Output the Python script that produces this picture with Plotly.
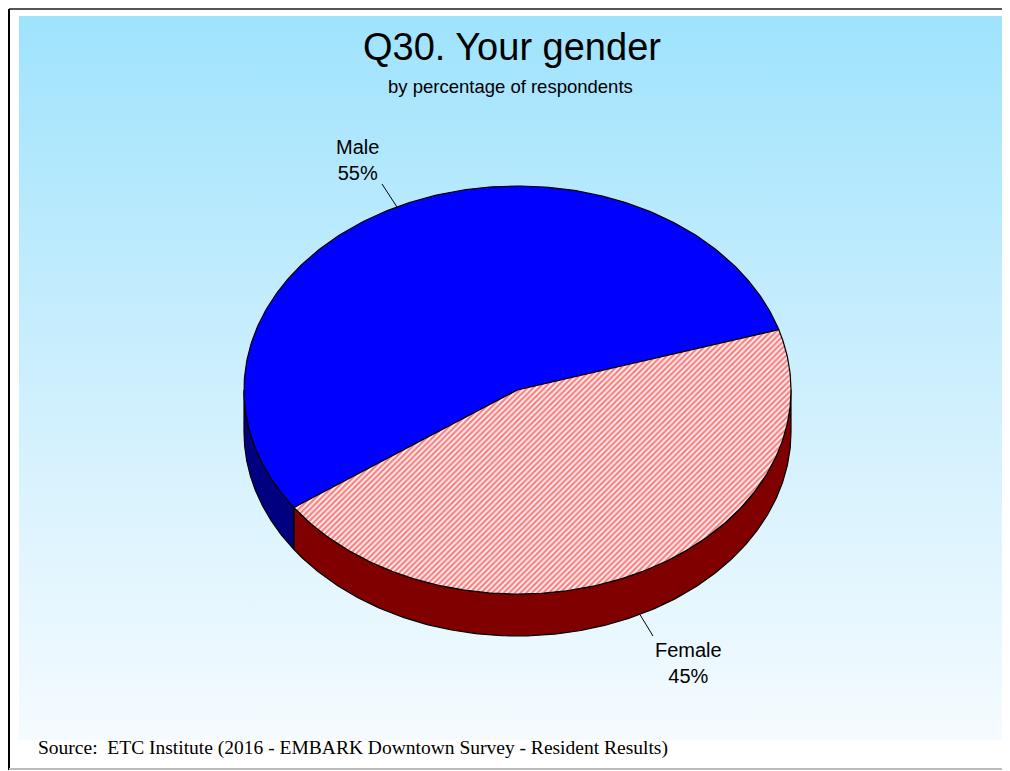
import numpy as np
import plotly.graph_objects as go

# survey data
labels = ["Male", "Female"]
percents = [55, 45]

title = "Q30. Your gender"
subtitle = "by percentage of respondents"
source = "Source:  ETC Institute (2016 - EMBARK Downtown Survey - Resident Results)"

W, H = 1010, 771
OFF = 8  # page body margin, so data units line up with window pixels
# 3d pie geometry (pixel units on a pixel-sized axis)
cx, cy, rx, ry, depth = 517.5, 390, 273.5, 204, 42
start = 17.2  # degrees, counter-clockwise from 3 o'clock
top_colors = ["#0000ff", "#ffffff"]
side_colors = ["#000080", "#800000"]
patterns = [None, dict(shape="/", fgcolor="#ff0000", bgcolor="#ffffff", size=4, solidity=0.6)]


def rim(a0, a1, n=240):
    t = np.radians(np.linspace(a0, a1, n))
    return cx + rx * np.cos(t), cy - ry * np.sin(t)


fig = go.Figure()

# background panel with vertical gradient
fig.add_trace(go.Scatter(
    x=[19, 1004, 1004, 19, 19], y=[16, 16, 740, 740, 16],
    mode="lines", fill="toself", line=dict(width=0),
    fillgradient=dict(type="vertical", start=16, stop=740,
                      colorscale=[[0, "#9fe3fd"], [0.5, "#cdeffd"], [1, "#f5fbff"]]),
    hoverinfo="skip", showlegend=False))

# slice angle ranges
angles = []
a = start
for p in percents:
    sweep = 360 * p / sum(percents)
    angles.append((a, a + sweep))
    a += sweep

# side walls (front half only: 180..360)
for (a0, a1), col in zip(angles, side_colors):
    lo, hi = max(a0, 180), min(a1, 360)
    if hi <= lo:
        continue
    xs, ys = rim(lo, hi)
    px = np.concatenate([xs, xs[::-1], xs[:1]])
    py = np.concatenate([ys, ys[::-1] + depth, ys[:1]])
    fig.add_trace(go.Scatter(x=px, y=py, mode="lines", fill="toself", fillcolor=col,
                             line=dict(color="black", width=1.2),
                             hoverinfo="skip", showlegend=False))

# top faces
for (a0, a1), col, pat, lab, p in zip(angles, top_colors, patterns, labels, percents):
    xs, ys = rim(a0, a1)
    px = np.concatenate([[cx], xs, [cx]])
    py = np.concatenate([[cy], ys, [cy]])
    kw = dict(fillpattern=pat) if pat else {}
    fig.add_trace(go.Scatter(x=px, y=py, mode="lines", fill="toself", fillcolor=col,
                             line=dict(color="black", width=1.2),
                             name=lab, text=f"{lab}: {p}%", hoverinfo="text",
                             showlegend=False, **kw))

# slice labels with leader lines
label_pos = [(357, 160, (382, 184), (397, 207)), (688, 663, (653, 636), (639, 613))]
for lab, p, (tx, ty, l0, l1) in zip(labels, percents, label_pos):
    fig.add_annotation(x=tx, y=ty, xref="x", yref="y", text=f"{lab}<br>{p}%",
                       showarrow=False, font=dict(family="Arial, Liberation Sans", size=20, color="black"))
    fig.add_shape(type="line", x0=l0[0], y0=l0[1], x1=l1[0], y1=l1[1],
                  xref="x", yref="y", line=dict(color="black", width=1))

fig.add_annotation(x=512, y=47, xref="x", yref="y", text=title, showarrow=False,
                   font=dict(family="Arial, Liberation Sans", size=38, color="black"))
fig.add_annotation(x=510, y=86, xref="x", yref="y", text=subtitle, showarrow=False,
                   font=dict(family="Arial, Liberation Sans", size=18.5, color="black"))
fig.add_annotation(x=36, y=748, xref="x", yref="y", text=source, showarrow=False, xanchor="left",
                   font=dict(family="Times New Roman, Liberation Serif", size=19.5, color="black"))

# outer frame (the page margin hides anything left of / above 8px)
fig.add_shape(type="line", x0=9, y0=9, x1=1020, y1=9, xref="x", yref="y", line=dict(color="#555555", width=2))
fig.add_shape(type="line", x0=9, y0=9, x1=9, y1=770, xref="x", yref="y", line=dict(color="#000000", width=2))
fig.add_shape(type="line", x0=9, y0=769, x1=1020, y1=769, xref="x", yref="y", line=dict(color="#bbbbbb", width=2))

fig.update_layout(
    width=W, height=H,
    margin=dict(l=0, r=0, t=0, b=0),
    paper_bgcolor="white", plot_bgcolor="white",
    xaxis=dict(range=[OFF, W + OFF], visible=False, fixedrange=True),
    yaxis=dict(range=[H + OFF, OFF], visible=False, fixedrange=True),
    showlegend=False,
)

fig.write_html("out.html")
